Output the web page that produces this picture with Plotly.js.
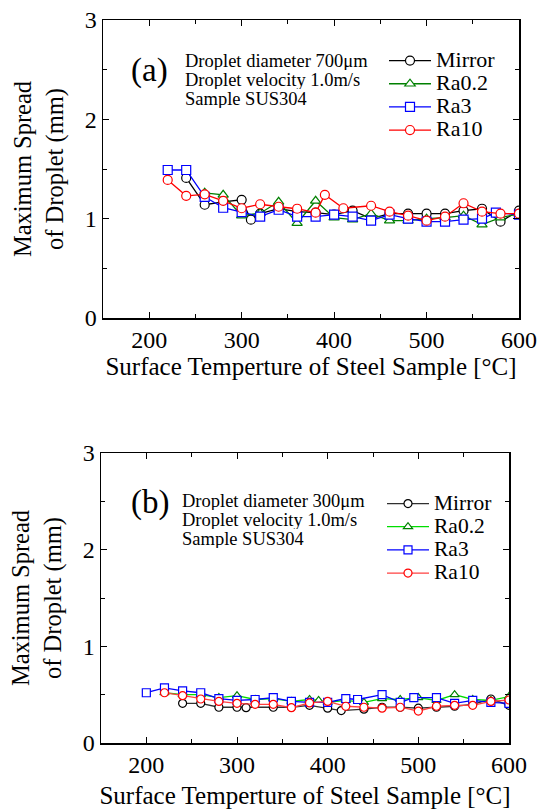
<!DOCTYPE html>
<html><head><meta charset="utf-8">
<script src="https://cdn.plot.ly/plotly-3.0.1.min.js"></script>
<style>html,body{margin:0;padding:0;background:#fff}#g{width:538px;height:809px}</style>
</head><body><div id="g"></div>
<script>
// ---- (a) 700 um ----
const aMirrorT = [240,260,280,300,310,320,340,360,380,400,420,440,460,480,500,520,540,560,580,600];
const aMirrorV = [1.41,1.14,1.17,1.19,0.99,1.05,1.10,1.07,1.06,1.04,1.08,1.00,1.05,1.05,1.05,1.05,1.08,1.10,0.97,1.08];
const aRa02T = [260,280,300,320,340,360,380,400,420,440,460,480,500,520,540,560,580,600];
const aRa02V = [1.26,1.24,1.03,1.055,1.17,0.955,1.18,1.01,0.99,1.05,0.98,0.98,1.00,1.01,1.03,0.94,1.01,1.05];
const aRa3T = [220,240,260,280,300,320,340,360,380,400,420,440,460,480,500,520,540,560,575,600];
const aRa3V = [1.49,1.49,1.22,1.11,1.065,1.02,1.09,1.02,1.02,1.04,1.02,0.98,1.04,1.00,0.97,0.97,0.99,1.00,1.06,1.04];
const aRa10T = [220,240,260,280,300,320,340,360,380,390,410,440,460,480,500,520,540,560,580,600];
const aRa10V = [1.39,1.23,1.245,1.18,1.105,1.145,1.12,1.10,1.06,1.24,1.105,1.13,1.07,1.03,0.98,1.02,1.155,1.07,1.05,1.05];
// ---- (b) 300 um ----
const bMirrorT = [240,260,280,300,310,340,360,380,400,415,440,460,480,500,520,540,560,580,600];
const bMirrorV = [0.41,0.41,0.37,0.37,0.365,0.37,0.37,0.39,0.36,0.335,0.35,0.37,0.37,0.36,0.37,0.38,0.40,0.455,0.39];
const bRa02T = [220,240,260,280,300,320,340,360,380,390,400,420,440,460,480,500,520,540,560,580,600];
const bRa02V = [0.52,0.50,0.50,0.47,0.49,0.45,0.46,0.43,0.45,0.44,0.42,0.44,0.42,0.46,0.45,0.47,0.44,0.50,0.45,0.44,0.48];
const bRa3T = [200,220,240,260,280,300,320,340,360,380,400,420,433,460,480,495,520,540,560,580,600];
const bRa3V = [0.52,0.57,0.54,0.52,0.46,0.44,0.45,0.47,0.43,0.42,0.42,0.46,0.45,0.50,0.42,0.47,0.47,0.41,0.44,0.42,0.41];
const bRa10T = [220,240,260,280,300,320,340,360,380,400,420,440,460,480,500,520,540,560,580,600];
const bRa10V = [0.52,0.49,0.455,0.43,0.41,0.40,0.40,0.365,0.415,0.43,0.38,0.37,0.36,0.37,0.33,0.38,0.39,0.39,0.43,0.445];

const names = ['Mirror','Ra0.2','Ra3','Ra10'];
const xTicks = [200,300,400,500,600];
const xMinor = [150,250,350,450,550];
const yTicks = [0,1,2,3];
const yMinor = [0.5,1.5,2.5];
const symbols = ['circle','triangle-up','square','circle'];
const aCol = ['#000000','#008000','#0000ff','#ff0000'];
const bLine = ['#303030','#00dd00','#0000ff','#ff4040'];
const bMark = ['#000000','#008000','#0000ff','#ff0000'];

const aT=[aMirrorT,aRa02T,aRa3T,aRa10T], aV=[aMirrorV,aRa02V,aRa3V,aRa10V];
const bT=[bMirrorT,bRa02T,bRa3T,bRa10T], bV=[bMirrorV,bRa02V,bRa3V,bRa10V];
const big = (s,px) => '<span style="font-size:'+px+'px">'+s+'</span>';

const traces=[];
for(let i=0;i<4;i++){
  traces.push({x:aT[i],y:aV[i],name:big(names[i],22),type:'scatter',mode:'lines+markers',xaxis:'x',yaxis:'y',legend:'legend',
    line:{color:aCol[i],width:1.3},marker:{symbol:symbols[i],size:9,color:'#ffffff',line:{color:aCol[i],width:1.2}}});
}
for(let i=0;i<4;i++){
  traces.push({x:bT[i],y:bV[i],name:big(names[i],21.5),type:'scatter',mode:'lines+markers',xaxis:'x2',yaxis:'y2',legend:'legend2',
    line:{color:bLine[i],width:1.3},marker:{symbol:symbols[i],size:8,color:'#ffffff',line:{color:bMark[i],width:1.2}}});
}
const F='Liberation Serif';
function xax(dom,anchor,so){return {domain:dom,anchor:anchor,range:[150,600],tickvals:xTicks,ticks:'inside',ticklen:6,
  tickwidth:1,tickcolor:'#000',showline:true,linecolor:'#000',linewidth:1.5,mirror:'allticks',showgrid:false,zeroline:false,
  minor:{tickvals:xMinor,ticks:'inside',ticklen:4,tickcolor:'#000'},
  tickfont:{family:F,size:24,color:'#000'},
  title:{text:'Surface Temperture of Steel Sample [°C]',font:{family:F,size:25,color:'#000'},standoff:so}};}
function yax(dom,anchor){return {domain:dom,anchor:anchor,range:[0,3],tickvals:yTicks,ticks:'inside',ticklen:6,
  tickwidth:1,tickcolor:'#000',showline:true,linecolor:'#000',linewidth:1.5,mirror:'allticks',showgrid:false,zeroline:false,
  minor:{tickvals:yMinor,ticks:'inside',ticklen:4,tickcolor:'#000'},
  tickfont:{family:F,size:24,color:'#000'},
  title:{text:'Maximum Spread<br>of Droplet (mm)',font:{family:F,size:24.5,color:'#000'},standoff:14}};}

const ann=[];
function info(xpx,ypx,lab,labx,laby,dia){
  ann.push({xref:'paper',yref:'paper',x:labx/538,y:1-laby/809,text:lab,showarrow:false,xanchor:'center',yanchor:'middle',
    font:{family:F,size:33,color:'#000'}});
  const lines=['Droplet diameter '+dia+'μm','Droplet velocity 1.0m/s','Sample SUS304'];
  lines.forEach((t,k)=>ann.push({xref:'paper',yref:'paper',x:xpx/538,y:1-(ypx+19*k)/809,xanchor:'left',yanchor:'middle',
    height:18,borderpad:0,showarrow:false,text:t,font:{family:F,size:18.5,color:'#000'}}));
}
info(184,61,'(a)',149,71,'700');
info(181,501,'(b)',150,502,'300');

const layout={width:538,height:809,margin:{l:0,r:0,t:0,b:0},paper_bgcolor:'#fff',plot_bgcolor:'#fff',
  font:{family:F,color:'#000'},
  xaxis:xax([103/538,519/538],'y',5),yaxis:yax([1-318/809,1-20/809],'x'),
  xaxis2:xax([101/538,509/538],'y2',14),yaxis2:yax([1-743/809,1-453/809],'x2'),
  legend:{x:384/538,y:1-44/809,xanchor:'left',yanchor:'top',bgcolor:'rgba(0,0,0,0)',font:{family:F,size:15.5,color:'#000'},itemwidth:42,tracegroupgap:0},
  legend2:{x:382/538,y:1-487/809,xanchor:'left',yanchor:'top',bgcolor:'rgba(0,0,0,0)',font:{family:F,size:15.5,color:'#000'},itemwidth:42,tracegroupgap:0},
  annotations:ann,showlegend:true};
Plotly.newPlot('g',traces,layout,{displayModeBar:false,staticPlot:true});
</script></body></html>
